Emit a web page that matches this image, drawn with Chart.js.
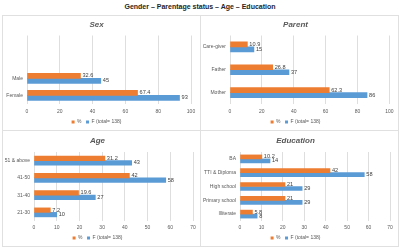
<!DOCTYPE html>
<html><head><meta charset="utf-8">
<script src="https://cdn.jsdelivr.net/npm/chart.js@4.4.1/dist/chart.umd.min.js"></script>
<style>
html,body{margin:0;padding:0;background:#fff;}
body{width:400px;height:248px;position:relative;overflow:hidden;font-family:"Liberation Sans",sans-serif;}
#head{position:absolute;left:0;top:1px;width:400px;text-align:center;font-weight:bold;font-size:7px;color:#262626;line-height:12px;}
.ln{position:absolute;background:#e0e0e0;}
canvas{position:absolute;}
</style></head><body>
<div id="head">Gender – Parentage status – Age – Education</div>
<div class="ln" style="left:2px;top:15px;width:396px;height:1px"></div>
<div class="ln" style="left:2px;top:246px;width:396px;height:1px"></div>
<div class="ln" style="left:2px;top:15px;width:1px;height:232px"></div>
<div class="ln" style="left:398px;top:15px;width:1px;height:232px"></div>
<div class="ln" style="left:200px;top:15px;width:1px;height:232px"></div>
<div class="ln" style="left:2px;top:130px;width:396px;height:1px"></div>
<canvas id="cSex" width="198" height="115" style="left:2px;top:15px"></canvas>
<canvas id="cParent" width="197" height="115" style="left:201px;top:15px"></canvas>
<canvas id="cAge" width="198" height="116" style="left:2px;top:130px"></canvas>
<canvas id="cEdu" width="197" height="116" style="left:201px;top:130px"></canvas>
<script>
// ---- data (categories listed top to bottom as drawn) ----
const seriesNames = ['%', 'F (total= 138)'];

const sexLabels = ['', '', 'Male', 'Female'];
const sexPct = [null, null, 32.6, 67.4];
const sexF = [null, null, 45, 93];

const parentLabels = ['Care-giver', 'Father', 'Mother'];
const parentPct = [10.9, 26.8, 62.3];
const parentF = [15, 37, 86];

const ageLabels = ['51 & above', '41-50', '31-40', '21-30'];
const agePct = [31.2, 42, 19.6, 7.2];
const ageF = [43, 58, 27, 10];

const eduLabels = ['BA', 'TTI & Diploma', 'High school', 'Primary school', 'Illiterate'];
const eduPct = [10.2, 42, 21, 21, 5.8];
const eduF = [14, 58, 29, 29, 8];

const axisMaxTop = 100, axisStepTop = 20;
const axisMaxBottom = 70, axisStepBottom = 10;

// ---- drawing ----
const FONT = '"Liberation Sans",sans-serif';
const ORANGE = '#ED7D31', BLUE = '#5B9BD5', GREY = '#595959';

const valueLabels = {
  id: 'valueLabels',
  afterDatasetsDraw(chart) {
    const ctx = chart.ctx;
    ctx.save();
    ctx.font = '5.6px ' + FONT;
    ctx.fillStyle = '#404040';
    ctx.textAlign = 'left';
    ctx.textBaseline = 'middle';
    chart.data.datasets.forEach((ds, di) => {
      const meta = chart.getDatasetMeta(di);
      meta.data.forEach((el, i) => {
        const v = ds.data[i];
        if (v === null || v === undefined) return;
        ctx.fillText(String(v), el.x + 2, el.y);
      });
    });
    ctx.restore();
  }
};

function make(id, title, labels, pct, f, o) {
  new Chart(document.getElementById(id), {
    type: 'bar',
    data: {
      labels: labels,
      datasets: [
        {label: seriesNames[0], data: pct, backgroundColor: ORANGE, borderWidth: 0, barThickness: o.bar},
        {label: seriesNames[1], data: f, backgroundColor: BLUE, borderWidth: 0, barThickness: o.bar}
      ]
    },
    options: {
      indexAxis: 'y',
      responsive: false,
      animation: false,
      layout: {padding: {left: 0, right: o.rightPad, top: 0, bottom: 0}},
      scales: {
        x: {
          min: 0, max: o.max,
          ticks: {stepSize: o.step, font: {size: 5, family: FONT}, color: GREY, padding: o.tickPad},
          grid: {color: '#dedede', drawTicks: false, lineWidth: 1},
          border: {display: false},
          afterFit: s => { s.height = o.axisH; }
        },
        y: {
          ticks: {font: {size: 5, family: FONT}, color: GREY, padding: 4, autoSkip: false},
          grid: {display: false, drawTicks: false},
          border: {display: false},
          afterFit: s => { s.width = o.yWidth; }
        }
      },
      plugins: {
        title: {display: true, text: title, color: GREY,
          font: {size: 8, style: 'italic', weight: 'bold', family: FONT},
          padding: {top: o.tTop, bottom: o.tBot}},
        legend: {position: 'bottom', maxHeight: o.legendH,
          labels: {boxWidth: 3, boxHeight: 3, padding: o.legendPad, color: GREY,
            font: {size: 5, family: FONT}}},
        tooltip: {enabled: false}
      }
    },
    plugins: [valueLabels]
  });
}

make('cSex', 'Sex', sexLabels, sexPct, sexF,
  {max: axisMaxTop, step: axisStepTop, rightPad: 9, yWidth: 25, bar: 5, tTop: 5.2, tBot: 5.7, axisH: 11, tickPad: 4.5, legendH: 15, legendPad: 4.5});
make('cParent', 'Parent', parentLabels, parentPct, parentF,
  {max: axisMaxTop, step: axisStepTop, rightPad: 8, yWidth: 29, bar: 5, tTop: 5.2, tBot: 5.7, axisH: 11, tickPad: 4.5, legendH: 15, legendPad: 4.5});
make('cAge', 'Age', ageLabels, agePct, ageF,
  {max: axisMaxBottom, step: axisStepBottom, rightPad: 7, yWidth: 32, bar: 4.5, tTop: 6.2, tBot: 6.2, axisH: 10, tickPad: 3.9, legendH: 15, legendPad: 4.5});
make('cEdu', 'Education', eduLabels, eduPct, eduF,
  {max: axisMaxBottom, step: axisStepBottom, rightPad: 8, yWidth: 39, bar: 4, tTop: 6.2, tBot: 6.2, axisH: 10, tickPad: 3.9, legendH: 15, legendPad: 4.5});
</script>
</body></html>
